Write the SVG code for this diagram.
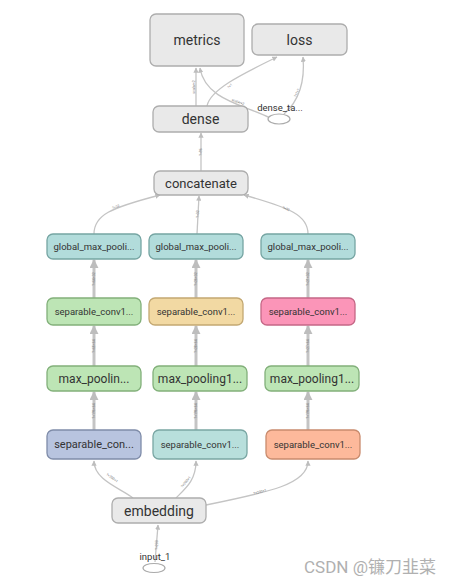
<svg xmlns="http://www.w3.org/2000/svg" width="453" height="585" viewBox="0 0 453 585">
<defs>
<marker id="ah" viewBox="0 0 10 10" refX="9" refY="5" markerWidth="4" markerHeight="4" orient="auto-start-reverse" markerUnits="strokeWidth"><path d="M0,0 L10,5 L0,10 z" fill="#bdbdbd"/></marker>
<marker id="ah2" viewBox="0 0 10 10" refX="9" refY="5" markerWidth="3" markerHeight="3" orient="auto" markerUnits="strokeWidth"><path d="M0,0 L10,5 L0,10 z" fill="#bdbdbd"/></marker>
<style>
text{font-family:Roboto,"Liberation Sans",sans-serif;fill:#333;text-anchor:middle;dominant-baseline:central}
.e{fill:none;stroke:#c4c4c4;stroke-width:1.3;marker-end:url(#ah)}
.v{fill:none;stroke:#c4c4c4;stroke-width:3;marker-end:url(#ah2)}
.lb{font-size:3.5px;fill:#777}
.g{fill:#e9e9e9;stroke:#adadad;stroke-width:1.3}
.gm{fill:#b2dcdb;stroke:#76a5a3;stroke-width:1.3}
.gr{fill:#bde5b5;stroke:#82b07a;stroke-width:1.3}
.s{font-size:9.5px}
.m{font-size:12px}
.big{font-size:14px}
</style>
</defs>
<rect width="453" height="585" fill="#fff"/>
<g id="connectors">
<path class="e" d="M155,562 L158,525"/>
<path class="e" d="M133,498 C120,488 94,480 94,461"/>
<path class="e" d="M176,498 C186,488 196,480 196,461"/>
<path class="e" d="M206,505 C270,492 308,484 308,461"/>
<path class="v" d="M94,430 L94,392"/>
<path class="v" d="M196,430 L196,392"/>
<path class="v" d="M308,430 L308,392"/>
<path class="v" d="M94,366 L94,326"/>
<path class="v" d="M196,366 L196,326"/>
<path class="v" d="M308,366 L308,326"/>
<path class="v" d="M94,298 L94,260"/>
<path class="v" d="M196,298 L196,260"/>
<path class="v" d="M308,298 L308,260"/>
<path class="e" d="M94,234 C94,215 110,208 160,195"/>
<path class="e" d="M197,234 L199,196"/>
<path class="e" d="M308,234 C308,215 290,208 244,195"/>
<path class="e" d="M201,171 L201,133"/>
<path class="e" d="M196,106 L196,68"/>
<path class="e" d="M207,106 C210,90 240,75 277,57"/>
<path class="e" d="M270,118 C245,105 205,100 200,68"/>
<path class="e" d="M284,114 C300,100 305,80 303,57"/>
</g>
<g id="edge-labels">
<text class="lb" transform="translate(157,545) rotate(-90)">?×200</text>
<text class="lb" transform="translate(112,478) rotate(35)">?×200×1</text>
<text class="lb" transform="translate(186,482) rotate(-50)">?×200×1</text>
<text class="lb" transform="translate(260,492) rotate(-15)">?×200×1</text>
<text class="lb" transform="translate(94,411) rotate(-90)">?×196×64</text>
<text class="lb" transform="translate(196,411) rotate(-90)">?×196×64</text>
<text class="lb" transform="translate(308,411) rotate(-90)">?×196×64</text>
<text class="lb" transform="translate(94,346) rotate(-90)">?×65×64</text>
<text class="lb" transform="translate(196,346) rotate(-90)">?×28×64</text>
<text class="lb" transform="translate(308,346) rotate(-90)">?×27×64</text>
<text class="lb" transform="translate(94,279) rotate(-90)">?×64×32</text>
<text class="lb" transform="translate(196,279) rotate(-90)">?×26×32</text>
<text class="lb" transform="translate(308,279) rotate(-90)">?×21×32</text>
<text class="lb" transform="translate(116,207) rotate(-20)">?×32</text>
<text class="lb" transform="translate(198,214) rotate(-90)">?×32</text>
<text class="lb" transform="translate(286,209) rotate(20)">?×32</text>
<text class="lb" transform="translate(201,152) rotate(-90)">?×96</text>
<text class="lb" transform="translate(194,87) rotate(-90)">scalar×2</text>
<text class="lb" transform="translate(230,86) rotate(-45)">?×1</text>
<text class="lb" transform="translate(238,102) rotate(20)">scalar×2</text>
<text class="lb" transform="translate(297,93) rotate(-65)">?×?×?</text>
</g>
<g id="metrics"><rect class="g" x="150" y="14" width="94" height="52" rx="6"/><text class="big" x="197" y="40">metrics</text></g>
<g id="loss"><rect class="g" x="252" y="24" width="95" height="31" rx="6"/><text class="big" x="299.5" y="40">loss</text></g>
<g id="dense"><rect class="g" x="153" y="106" width="95" height="26" rx="6"/><text class="big" x="200.5" y="119">dense</text></g>
<g id="dense_target"><ellipse cx="279" cy="119" rx="11" ry="5" fill="#fff" stroke="#aaa" stroke-width="1.2"/><text x="280" y="107" style="font-size:9.5px">dense_ta...</text></g>
<g id="concatenate"><rect class="g" x="154" y="171" width="94" height="24" rx="6"/><text x="201" y="183" style="font-size:13px">concatenate</text></g>
<g id="gmp1"><rect class="gm" x="47" y="234" width="94" height="25" rx="6"/><text class="s" x="94" y="246.5">global_max_pooli...</text></g>
<g id="gmp2"><rect class="gm" x="149" y="234" width="94" height="25" rx="6"/><text class="s" x="196" y="246.5">global_max_pooli...</text></g>
<g id="gmp3"><rect class="gm" x="261" y="234" width="94" height="25" rx="6"/><text class="s" x="308" y="246.5">global_max_pooli...</text></g>
<g id="sc2a"><rect class="gr" x="47" y="298" width="94" height="27" rx="6"/><text class="s" x="94" y="311.5">separable_conv1...</text></g>
<g id="sc2b"><rect x="149" y="298" width="94" height="27" rx="6" fill="#f2d9a3" stroke="#c3a872" stroke-width="1.3"/><text class="s" x="196" y="311.5">separable_conv1...</text></g>
<g id="sc2c"><rect x="261" y="298" width="94" height="27" rx="6" fill="#fb95b8" stroke="#c56786" stroke-width="1.3"/><text class="s" x="308" y="311.5">separable_conv1...</text></g>
<g id="mp1"><rect class="gr" x="47" y="366" width="94" height="25" rx="6"/><text class="m" x="94" y="378.5">max_poolin...</text></g>
<g id="mp2"><rect class="gr" x="153" y="366" width="94" height="25" rx="6"/><text class="m" x="200" y="378.5">max_pooling1...</text></g>
<g id="mp3"><rect class="gr" x="265" y="366" width="94" height="25" rx="6"/><text class="m" x="312" y="378.5">max_pooling1...</text></g>
<g id="sc1a"><rect x="47" y="430" width="94" height="29" rx="6" fill="#b8c4df" stroke="#7f8ca9" stroke-width="1.3"/><text x="94" y="444.5" style="font-size:11px">separable_con...</text></g>
<g id="sc1b"><rect x="153" y="430" width="94" height="29" rx="6" fill="#b8dfdc" stroke="#79a6a3" stroke-width="1.3"/><text class="s" x="200" y="444.5">separable_conv1...</text></g>
<g id="sc1c"><rect x="266" y="430" width="94" height="29" rx="6" fill="#fdb99b" stroke="#c98b6d" stroke-width="1.3"/><text class="s" x="313" y="444.5">separable_conv1...</text></g>
<g id="embedding"><rect class="g" x="112" y="498" width="94" height="25" rx="6"/><text class="big" x="159" y="510.5">embedding</text></g>
<g id="input_1"><ellipse cx="154" cy="568" rx="11" ry="4.5" fill="#fff" stroke="#aaa" stroke-width="1.2"/><text x="155" y="556" style="font-size:9.5px">input_1</text></g>
<text x="370" y="567" style="font-size:17px;fill:#b0b0b0;font-family:Roboto,'Noto Sans CJK SC',sans-serif">CSDN @镰刀韭菜</text>
</svg>
